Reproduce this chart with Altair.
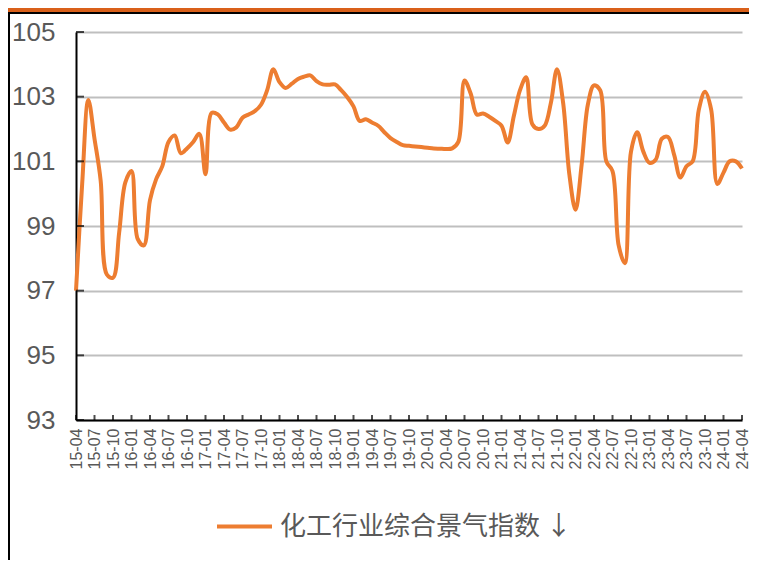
import altair as alt
import pandas as pd

# ---- data -------------------------------------------------------------
months = []
for k in range(109):
    m = 3 + k
    months.append(f"{15 + m // 12:02d}-{m % 12 + 1:02d}")

values = [
    97.0, 100.3, 102.9, 101.7, 100.4, 97.5, 97.4, 98.8, 100.35, 100.7,   # 15-04 .. 16-01
    98.6, 98.4, 99.8, 100.45, 100.85, 101.6, 101.8, 101.25, 101.4, 101.6,  # 16-02 .. 16-11
    101.85, 100.6, 102.5, 102.45, 102.2, 101.98, 102.05, 102.35, 102.45, 102.55,  # 16-12 .. 17-09
    102.75, 103.2, 103.85, 103.45, 103.27, 103.4, 103.55, 103.62, 103.66, 103.48,  # 17-10 .. 18-07
    103.38, 103.37, 103.38, 103.2, 102.98, 102.7, 102.25, 102.3, 102.2, 102.1,  # 18-08 .. 19-05
    101.9, 101.72, 101.6, 101.5, 101.48, 101.46, 101.44, 101.42, 101.4, 101.39,  # 19-06 .. 20-03
    101.38, 101.4, 101.6, 103.5, 103.1, 102.45, 102.48, 102.38, 102.25, 102.1,  # 20-04 .. 21-01
    101.58, 102.4, 103.2, 103.6, 102.15, 102.0, 102.1, 102.8, 103.85, 102.8,  # 21-02 .. 21-11
    100.6, 99.5, 100.9, 102.75, 103.35, 103.2, 101.0, 100.7, 98.4, 97.85,  # 21-12 .. 22-09
    101.3, 101.9, 101.3, 100.95, 101.05, 101.7, 101.75, 101.2, 100.5, 100.85,  # 22-10 .. 23-07
    101.0, 102.6, 103.15, 102.6, 100.3, 100.65, 101.0, 101.0, 100.78,  # 23-08 .. 24-04
]
series_name = "化工行业综合景气指数 ↓"
y_ticks = [93, 95, 97, 99, 101, 103, 105]
x_tick_labels = months[::3]

df = pd.DataFrame({"month": months, "value": values, "series": series_name,
                   "idx": list(range(len(months)))})
ydf = pd.DataFrame({"v": y_ticks})
one = pd.DataFrame({"a": [0]})

W, H = 666, 388
LEFT = 68
ORANGE = "#ED7D31"
GREY_TXT = "#595959"

x_enc = alt.X(
    "month:O", sort=None,
    scale=alt.Scale(type="point", padding=0),
    axis=alt.Axis(values=x_tick_labels, labelAngle=-90, labelFontSize=16,
                  labelColor=GREY_TXT, labelFont="Liberation Sans",
                  ticks=False, domainColor="black", domainWidth=2,
                  labelPadding=8, title=None, grid=False),
)
y_enc = alt.Y(
    "value:Q",
    scale=alt.Scale(domain=[93, 105], nice=False, zero=False),
    axis=alt.Axis(values=y_ticks, labelFontSize=26, labelColor=GREY_TXT,
                  labelFont="Liberation Sans", grid=True, gridColor="#BFBFBF",
                  gridWidth=2, domainColor="black", domainWidth=2, ticks=False,
                  labelPadding=21, title=None),
)

line = alt.Chart(df).mark_line(interpolate="catmull-rom", strokeWidth=4).encode(
    x=x_enc, y=y_enc,
    color=alt.Color("series:N", scale=alt.Scale(range=[ORANGE]),
                    legend=alt.Legend(orient="none", legendX=139, legendY=465,
                                      title=None, symbolType="stroke",
                                      symbolSize=3025, symbolStrokeWidth=4,
                                      labelFontSize=26, labelColor=GREY_TXT,
                                      labelFont="Noto Sans CJK SC", padding=0,
                                      labelOffset=6, labelLimit=0)),
)

xticks = alt.Chart(df).transform_filter("datum.idx % 3 == 0").mark_tick(
    orient="vertical", size=5, thickness=2, color="black"
).encode(x=alt.X("month:O", sort=None), y=alt.value(H - 2.5))

yticks = alt.Chart(ydf).mark_tick(
    orient="horizontal", size=8, thickness=2, color="black"
).encode(y=alt.Y("v:Q"), x=alt.value(4))

top_band = alt.Chart(one).mark_rule(color="#D9601A", strokeWidth=4).encode(
    x=alt.value(-LEFT), x2=alt.value(W + 7), y=alt.value(-22))
top_black = alt.Chart(one).mark_rule(color="black", strokeWidth=2).encode(
    x=alt.value(-LEFT), x2=alt.value(W + 7), y=alt.value(-19))
left_black = alt.Chart(one).mark_rule(color="black", strokeWidth=2).encode(
    x=alt.value(-LEFT + 1), y=alt.value(-20), y2=alt.value(H + 140))

chart = alt.layer(top_band, top_black, left_black, line, xticks, yticks).properties(
    width=W, height=H,
    padding={"left": LEFT, "top": 24, "right": 7, "bottom": 140},
    autosize=alt.AutoSizeParams(type="none"),
).configure_view(stroke=None)

chart.save("out.html", embed_options={"renderer": "svg", "actions": False})
